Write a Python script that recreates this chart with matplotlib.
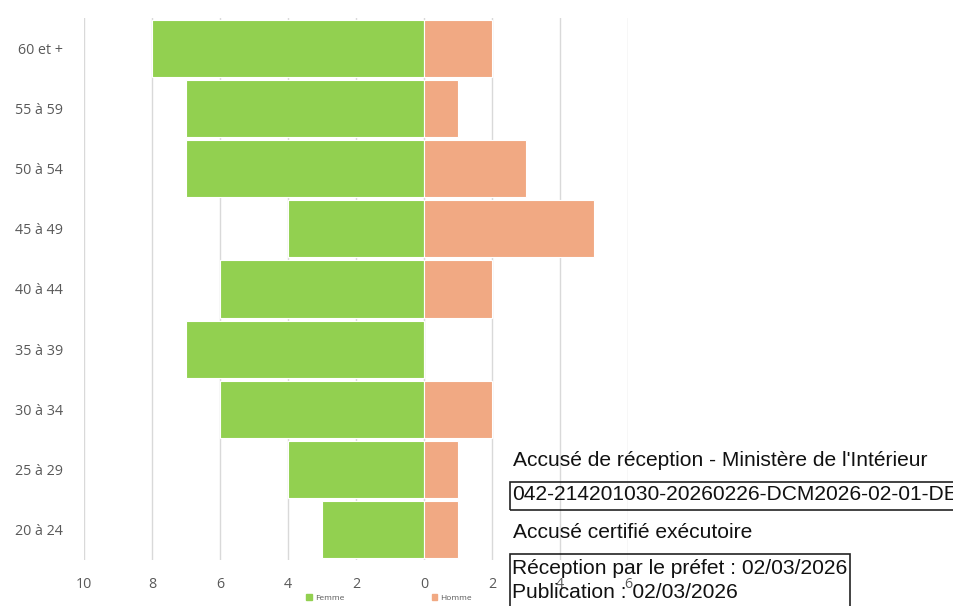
import matplotlib
matplotlib.use("Agg")
import matplotlib.pyplot as plt
from matplotlib.patches import Rectangle, Patch
import numpy as np

# age groups, bottom to top
age_groups = ["20 à 24", "25 à 29", "30 à 34", "35 à 39", "40 à 44",
              "45 à 49", "50 à 54", "55 à 59", "60 et +"]
femme = [3, 4, 6, 7, 6, 4, 7, 7, 8]
homme = [1, 1, 2, 0, 2, 5, 3, 1, 2]
x_ticks = [-10, -8, -6, -4, -2, 0, 2, 4, 6]

green = "#92D050"
salmon = "#F1A983"
grey = "#595959"

plt.rcParams['font.family'] = ['Open Sans', 'DejaVu Sans']

fig = plt.figure(figsize=(9.54, 6.06), dpi=100)
W, H = 954, 606
ax = fig.add_axes([84 / W, 1 - 560 / H, (628 - 84) / W, (560 - 18) / H])

y = np.arange(len(age_groups))
ax.barh(y, [-v for v in femme], height=0.95, color=green, edgecolor="white",
        linewidth=0.8, zorder=2)
ax.barh(y, homme, height=0.95, color=salmon, edgecolor="white",
        linewidth=0.8, zorder=2)

ax.set_xlim(-10, 6)
ax.set_ylim(-0.5, len(age_groups) - 0.5)
ax.set_xticks(x_ticks)
ax.set_xticklabels([str(abs(t)) for t in x_ticks], fontsize=10.3, color=grey)
ax.set_yticks(y)
ax.set_yticklabels(age_groups, fontsize=10.3, color=grey)
ax.tick_params(axis="y", length=0, pad=15)
ax.tick_params(axis="x", length=0, pad=12)
ax.grid(axis="x", color="#D9D9D9", linewidth=1, zorder=0)
for s in ax.spines.values():
    s.set_visible(False)

# small legend below the axis
handles = [Patch(color=green, label="Femme"), Patch(color=salmon, label="Homme")]
fig.legend(handles=handles, loc="center", bbox_to_anchor=(389 / W, 1 - 598 / H),
           ncol=2, frameon=False, fontsize=6, handlelength=0.7, handleheight=0.7,
           handletextpad=0.3, columnspacing=10.5, labelcolor=grey)

# stamp overlay
stamp_font = ['Liberation Sans', 'DejaVu Sans']
fs = 15.1
fig.text(513 / W, 1 - 461 / H, "Accusé de réception - Ministère de l'Intérieur",
         fontsize=fs, family=stamp_font, va="center", ha="left", color="#111111")
fig.patches.append(Rectangle((510 / W, 1 - 510 / H), 460 / W, 28 / H,
                             transform=fig.transFigure, fill=False,
                             edgecolor="#222222", linewidth=1.2))
fig.text(512 / W, 1 - 495 / H, "042-214201030-20260226-DCM2026-02-01-DE",
         fontsize=fs, family=stamp_font, va="center", ha="left", color="#111111")
fig.text(513 / W, 1 - 532 / H, "Accusé certifié exécutoire",
         fontsize=fs, family=stamp_font, va="center", ha="left", color="#111111")
fig.patches.append(Rectangle((510 / W, 1 - 620 / H), 340 / W, 66 / H,
                             transform=fig.transFigure, fill=False,
                             edgecolor="#222222", linewidth=1.2))
fig.text(512 / W, 1 - 569 / H, "Réception par le préfet : 02/03/2026",
         fontsize=fs, family=stamp_font, va="center", ha="left", color="#111111")
fig.text(512 / W, 1 - 592 / H, "Publication : 02/03/2026",
         fontsize=fs, family=stamp_font, va="center", ha="left", color="#111111")

fig.savefig("out.png", dpi=100)
